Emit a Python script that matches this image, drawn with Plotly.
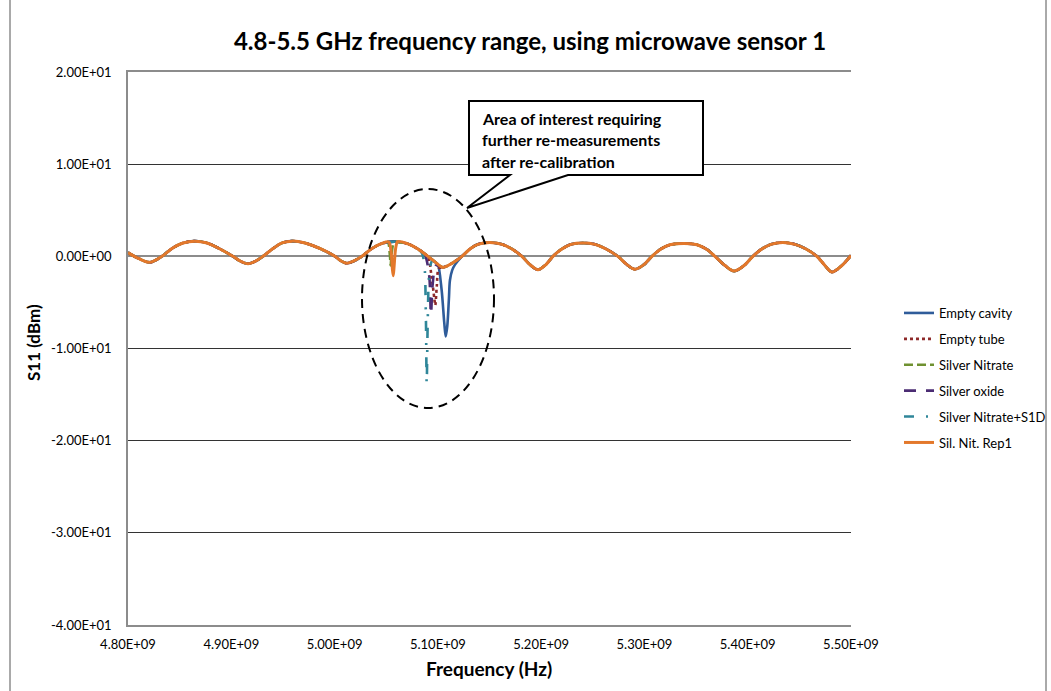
import plotly.graph_objects as go

# ---------------- data ----------------
# shared ripple baseline (frequency in Hz, S11 in dBm)
base_freq = [4.8000e9, 4.8106e9, 4.8213e9, 4.8329e9, 4.8426e9, 4.8532e9, 4.8649e9, 4.8765e9,
             4.8891e9, 4.9016e9, 4.9084e9, 4.9162e9, 4.9239e9, 4.9307e9, 4.9404e9, 4.9491e9,
             4.9588e9, 4.9714e9, 4.9868e9, 5.0004e9, 5.0062e9, 5.0120e9, 5.0188e9, 5.0265e9,
             5.0362e9, 5.0459e9, 5.0585e9, 5.0711e9, 5.0807e9, 5.0904e9, 5.0972e9, 5.1049e9,
             5.1137e9, 5.1233e9, 5.1311e9, 5.1388e9, 5.1504e9, 5.1621e9, 5.1717e9, 5.1814e9,
             5.1892e9, 5.1969e9, 5.2046e9, 5.2114e9, 5.2201e9, 5.2289e9, 5.2405e9, 5.2521e9,
             5.2628e9, 5.2743e9, 5.2831e9, 5.2908e9, 5.2995e9, 5.3073e9, 5.3160e9, 5.3247e9,
             5.3382e9, 5.3508e9, 5.3605e9, 5.3683e9, 5.3780e9, 5.3867e9, 5.3964e9, 5.4050e9,
             5.4137e9, 5.4225e9, 5.4341e9, 5.4457e9, 5.4564e9, 5.4670e9, 5.4748e9, 5.4815e9,
             5.4911e9, 5.5000e9]
base_s11 = [0.4, -0.25, -0.65, 0.0, 0.85, 1.45, 1.65, 1.45,
            0.8, 0.0, -0.5, -0.8, -0.5, 0.0, 0.85, 1.45,
            1.65, 1.45, 0.8, 0.0, -0.5, -0.75, -0.5, 0.0,
            0.85, 1.4, 1.6, 1.35, 0.8, 0.0, -0.6, -1.2,
            -0.75, 0.0, 0.8, 1.3, 1.5, 1.3, 0.8, 0.0,
            -0.9, -1.45, -0.9, 0.0, 0.8, 1.3, 1.45, 1.3,
            0.8, 0.0, -0.9, -1.4, -0.9, 0.0, 0.8, 1.25,
            1.4, 1.25, 0.75, 0.0, -1.0, -1.6, -1.0, 0.0,
            0.8, 1.3, 1.5, 1.3, 0.8, 0.0, -1.0, -1.7,
            -1.0, 0.1]

# resonance dips of each series
cavity_dip_freq = [5.0985e9, 5.1001e9, 5.1036e9, 5.1062e9, 5.1076e9, 5.1091e9, 5.1107e9, 5.1117e9, 5.1139e9, 5.1166e9]
cavity_dip_s11 = [-0.75, -0.9, -3.6, -7.2, -8.7, -7.6, -4.6, -2.6, -1.5, -0.9]

tube_dip_freq = [5.0900e9, 5.0940e9, 5.0965e9, 5.0975e9, 5.0990e9, 5.1010e9]
tube_dip_s11 = [0.0, -2.3, -4.5, -5.3, -3.2, -1.3]

nitrate_dip_freq = [5.0515e9, 5.0535e9, 5.0543e9, 5.0552e9, 5.0575e9]
nitrate_dip_s11 = [1.5, 0.2, -1.0, 0.3, 1.6]

oxide_dip_freq = [5.0870e9, 5.0915e9, 5.0933e9, 5.0950e9, 5.0980e9, 5.1010e9]
oxide_dip_s11 = [0.25, -2.0, -6.3, -3.0, -1.0, -1.05]

s1d_dip_freq = [5.0846e9, 5.0870e9, 5.0884e9, 5.0892e9, 5.0902e9, 5.0918e9, 5.0945e9]
s1d_dip_s11 = [0.35, -1.0, -6.5, -13.8, -7.0, -1.8, -0.5]

rep1_dip_freq = [5.0525e9, 5.0548e9, 5.0560e9, 5.0568e9, 5.0577e9, 5.0592e9, 5.0612e9]
rep1_dip_s11 = [1.55, 0.4, -1.4, -2.1, -1.0, 0.9, 1.6]

series_names = ["Empty cavity", "Empty tube", "Silver Nitrate", "Silver oxide",
                "Silver Nitrate+S1D", "Sil. Nit. Rep1"]

x_tickvals = [4.8e9, 4.9e9, 5.0e9, 5.1e9, 5.2e9, 5.3e9, 5.4e9, 5.5e9]
x_ticktext = ["4.80E+09", "4.90E+09", "5.00E+09", "5.10E+09", "5.20E+09", "5.30E+09", "5.40E+09", "5.50E+09"]
y_tickvals = [20, 10, 0, -10, -20, -30, -40]
y_ticktext = ["2.00E+01", "1.00E+01", "0.00E+00", "-1.00E+01", "-2.00E+01", "-3.00E+01", "-4.00E+01"]

callout_lines = ["Area of interest requiring", "further re-measurements", "after re-calibration"]


def merge(dip_f, dip_v):
    lo, hi = min(dip_f), max(dip_f)
    pts = [(f, v) for f, v in zip(base_freq, base_s11) if f < lo or f > hi]
    pts += list(zip(dip_f, dip_v))
    pts.sort()
    return [p[0] for p in pts], [p[1] for p in pts]


styles = [
    dict(color="#2f5c9a", width=2.6, dash="solid"),
    dict(color="#8e2a2a", width=2.6, dash="dot"),
    dict(color="#6f9130", width=2.6, dash="9px,4px"),
    dict(color="#4b2c73", width=2.6, dash="12px,10px"),
    dict(color="#2f8699", width=2.6, dash="10px,12px,2px,12px"),
    dict(color="#e3782b", width=3.0, dash="solid"),
]
dip_data = [
    (cavity_dip_freq, cavity_dip_s11),
    (tube_dip_freq, tube_dip_s11),
    (nitrate_dip_freq, nitrate_dip_s11),
    (oxide_dip_freq, oxide_dip_s11),
    (s1d_dip_freq, s1d_dip_s11),
    (rep1_dip_freq, rep1_dip_s11),
]

FONT = "Lato, 'Open Sans', sans-serif"

fig = go.Figure()
for i, (name, st, (df, dv)) in enumerate(zip(series_names, styles, dip_data)):
    xs, ys = merge(df, dv)
    fig.add_trace(go.Scatter(
        x=xs, y=ys, mode="lines", name=name, legendgroup=f"g{i}",
        line=dict(color=st["color"], width=st["width"], dash=st["dash"],
                  shape="spline", smoothing=0.9),
    ))

# plot area in pixels: x 128..851, y 72..625
L, R, T, B = 128, 851, 72, 625
W, H = 1051, 691


def px(xp):
    return (xp - L) / (R - L)


def py(yp):
    return (B - yp) / (B - T)


def fx(xp):
    return 4.8e9 + (xp - L) / (R - L) * 0.7e9


def fy(yp):
    return 20 - (yp - T) / (B - T) * 60


fig.update_layout(
    width=W, height=H,
    margin=dict(l=L, r=W - R, t=T, b=H - B, autoexpand=False),
    paper_bgcolor="white", plot_bgcolor="white",
    font=dict(family=FONT, color="#000000"),
    title=dict(text="<b>4.8-5.5 GHz frequency range, using microwave sensor 1</b>",
               x=530 / W, xanchor="center", y=1 - 42 / H, yanchor="middle",
               font=dict(size=24, family=FONT, color="#000")),
    showlegend=True,
    legend=dict(x=px(899), xanchor="left", y=py(298), yanchor="top",
                font=dict(size=13, family=FONT, color="#000"),
                tracegroupgap=6, bgcolor="rgba(0,0,0,0)"),
    xaxis=dict(range=[4.8e9, 5.5e9], tickvals=x_tickvals, ticktext=x_ticktext,
               showgrid=False, zeroline=False, showline=True, linecolor="#8c8c8c",
               linewidth=1.5, mirror=True, ticks="", ticklabelstandoff=7,
               automargin=False,
               tickfont=dict(size=13, family=FONT, color="#000")),
    yaxis=dict(range=[-40, 20], tickvals=y_tickvals, ticktext=y_ticktext,
               showgrid=True, gridcolor="#333333", gridwidth=1,
               zeroline=True, zerolinecolor="#8c8c8c", zerolinewidth=2,
               showline=True, linecolor="#8c8c8c", linewidth=1.5, mirror=False,
               ticks="", ticklabelstandoff=12, automargin=False,
               tickfont=dict(size=13, family=FONT, color="#000")),
)

# axis titles
fig.add_annotation(text="<b>Frequency (Hz)</b>", xref="paper", yref="paper",
                   x=px(489), y=py(668), xanchor="center", yanchor="middle",
                   showarrow=False, font=dict(size=19, family=FONT, color="#000"))
fig.add_annotation(text="<b>S11 (dBm)</b>", xref="paper", yref="paper",
                   x=px(33), y=py(343), xanchor="center", yanchor="middle",
                   textangle=-90, showarrow=False, font=dict(size=17, family=FONT, color="#000"))

# dashed ellipse around area of interest
fig.add_shape(type="circle", xref="x", yref="y",
              x0=fx(362), x1=fx(494), y0=fy(408), y1=fy(189),
              line=dict(color="#000", width=2, dash="9px,6px"))

# callout box with tail
path_pts = [(469, 101), (703, 101), (703, 175), (568, 175), (467, 208), (510, 175), (469, 175)]
path = "M " + " L ".join(f"{fx(a)},{fy(b)}" for a, b in path_pts) + " Z"
fig.add_shape(type="path", xref="x", yref="y", path=path,
              line=dict(color="#000", width=2), fillcolor="white", layer="above")
for k, line in enumerate(callout_lines):
    fig.add_annotation(text=f"<b>{line}</b>", xref="x", yref="y",
                       x=fx(480), y=fy(118 + 21.5 * k), xanchor="left", yanchor="middle",
                       showarrow=False, font=dict(size=16, family=FONT, color="#000"))

# outer chart border
fig.add_shape(type="rect", xref="paper", yref="paper",
              x0=px(10), x1=px(1046), y0=py(696), y1=py(-5),
              line=dict(color="#555", width=1), fillcolor="rgba(0,0,0,0)", layer="below")

fig.write_html("out.html")
